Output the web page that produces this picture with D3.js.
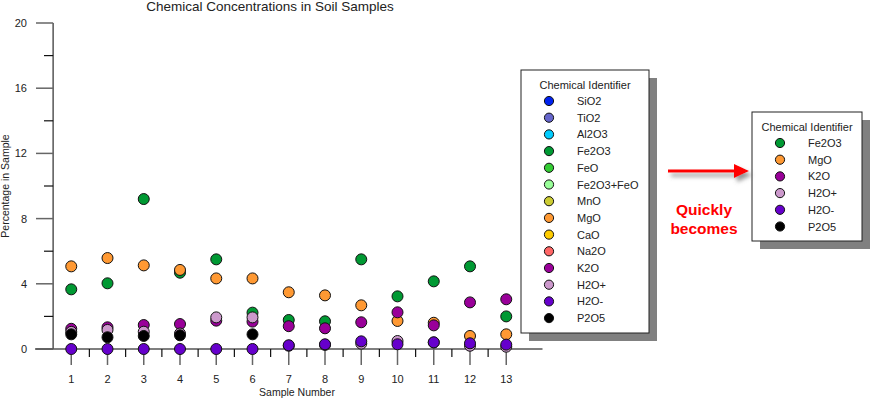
<!DOCTYPE html>
<html>
<head>
<meta charset="utf-8">
<script src="https://cdn.jsdelivr.net/npm/d3@7/dist/d3.min.js"></script>
<style>
  body { margin: 0; background: #fff; }
  svg { display: block; font-family: "Liberation Sans", Arial, sans-serif; }
</style>
</head>
<body>
<div id="chart"></div>
<script>
'use strict';

// sample numbers on the x axis
const samples = [1, 2, 3, 4, 5, 6, 7, 8, 9, 10, 11, 12, 13];

// percentages (null = not plotted)
const fe2o3   = [3.66, 4.03, 9.2, 4.68, 5.5, 2.23, 1.78, 1.7, 5.5, 3.23, 4.15, 5.07, 2.0];
const mgo     = [5.07, 5.58, 5.13, 4.85, 4.33, 4.33, 3.48, 3.29, 2.68, 1.72, 1.61, 0.8, 0.9];
const k2o     = [1.24, 1.33, 1.47, 1.53, 1.74, 1.68, 1.4, 1.27, 1.64, 2.25, 1.45, 2.86, 3.05];
const h2oPlus = [1.05, 1.17, 1.06, 0.95, 1.94, 1.94, 0.2, 0.25, 0.33, 0.49, 0.4, 0.2, 0.14];
const h2oMinus= [0, 0, 0, 0, 0, 0, 0.23, 0.29, 0.47, 0.29, 0.41, 0.35, 0.27];
const p2o5    = [0.9, 0.72, 0.8, 0.84, null, 0.9, null, null, null, null, null, null, null];

// full legend
const chemicals = ["SiO2", "TiO2", "Al2O3", "Fe2O3", "FeO", "Fe2O3+FeO", "MnO", "MgO", "CaO", "Na2O", "K2O", "H2O+", "H2O-", "P2O5"];
const chemColors = ["#0022ee", "#6666cc", "#00ccff", "#009933", "#33cc33", "#99ff99", "#cccc33", "#ff9933", "#ffcc00", "#ff6666", "#990099", "#cc99cc", "#6600cc", "#000000"];

// plotted series, in draw order
const plotted = ["Fe2O3", "MgO", "K2O", "H2O+", "H2O-", "P2O5"];
const plottedValues = [fe2o3, mgo, k2o, h2oPlus, h2oMinus, p2o5];

const yMajorTicks = [0, 4, 8, 12, 16, 20];
const yMinorTicks = [2, 6, 10, 14, 18];
const xMinorTicks = [1.5, 2.5, 3.5, 4.5, 5.5, 6.5, 7.5, 8.5, 9.5, 10.5, 11.5, 12.5];

const color = d3.scaleOrdinal().domain(chemicals).range(chemColors);

const svg = d3.select("#chart").append("svg")
    .attr("width", 870)
    .attr("height", 399);

const defs = svg.append("defs");
const shadow = defs.append("filter").attr("id", "arrowShadow")
    .attr("x", "-20%").attr("y", "-50%").attr("width", "150%").attr("height", "250%");
shadow.append("feDropShadow")
    .attr("dx", 3).attr("dy", 4).attr("stdDeviation", 2)
    .attr("flood-color", "#666").attr("flood-opacity", 0.7);

const x = d3.scaleLinear().domain([0, 14]).range([35, 542.5]);
const y = d3.scaleLinear().domain([0, 20]).range([349, 23]);

// title
svg.append("text")
    .attr("x", 270).attr("y", 11)
    .attr("text-anchor", "middle")
    .style("font-size", "13.5px")
    .attr("fill", "#222")
    .text("Chemical Concentrations in Soil Samples");

// y axis
const yAxisX = x(0.5);
svg.append("line")
    .attr("x1", yAxisX).attr("x2", yAxisX)
    .attr("y1", y(20)).attr("y2", y(0))
    .attr("stroke", "#555").attr("stroke-width", 1.5);

svg.selectAll(".ymajor").data(yMajorTicks).enter().append("line")
    .attr("class", "ymajor")
    .attr("x1", 36).attr("x2", yAxisX)
    .attr("y1", d => y(d)).attr("y2", d => y(d))
    .attr("stroke", "#666").attr("stroke-width", 1.5);

svg.selectAll(".yminor").data(yMinorTicks).enter().append("line")
    .attr("class", "yminor")
    .attr("x1", 44).attr("x2", yAxisX)
    .attr("y1", d => y(d)).attr("y2", d => y(d))
    .attr("stroke", "#111").attr("stroke-width", 1.2);

svg.selectAll(".ylabel").data(yMajorTicks).enter().append("text")
    .attr("class", "ylabel")
    .attr("x", 27).attr("y", d => y(d) + 4)
    .attr("text-anchor", "end")
    .style("font-size", "11px")
    .attr("fill", "#222")
    .text(d => d);

svg.append("text")
    .attr("transform", "translate(9," + y(10) + ") rotate(-90)")
    .attr("text-anchor", "middle")
    .style("font-size", "10.5px")
    .attr("fill", "#222")
    .text("Percentage in Sample");

// x axis
svg.append("line")
    .attr("x1", x(0)).attr("x2", x(14))
    .attr("y1", y(0)).attr("y2", y(0))
    .attr("stroke", "#555").attr("stroke-width", 1.5);

svg.selectAll(".xmajor").data(samples).enter().append("line")
    .attr("class", "xmajor")
    .attr("x1", d => x(d)).attr("x2", d => x(d))
    .attr("y1", y(0)).attr("y2", y(0) + 16)
    .attr("stroke", "#666").attr("stroke-width", 1.5);

svg.selectAll(".xminor").data(xMinorTicks).enter().append("line")
    .attr("class", "xminor")
    .attr("x1", d => x(d)).attr("x2", d => x(d))
    .attr("y1", y(0)).attr("y2", y(0) + 8)
    .attr("stroke", "#111").attr("stroke-width", 1.2);

svg.selectAll(".xlabel").data(samples).enter().append("text")
    .attr("class", "xlabel")
    .attr("x", d => x(d)).attr("y", 383)
    .attr("text-anchor", "middle")
    .style("font-size", "11px")
    .attr("fill", "#222")
    .text(d => d);

svg.append("text")
    .attr("x", 297).attr("y", 396)
    .attr("text-anchor", "middle")
    .style("font-size", "10.5px")
    .attr("fill", "#222")
    .text("Sample Number");

// points
plotted.forEach(function(name, i) {
    const pts = samples.map((s, j) => ({s: s, v: plottedValues[i][j]}))
        .filter(d => d.v !== null);
    svg.append("g").selectAll("circle").data(pts).enter().append("circle")
        .attr("cx", d => x(d.s))
        .attr("cy", d => y(d.v))
        .attr("r", 5.5)
        .attr("fill", color(name))
        .attr("stroke", "#111")
        .attr("stroke-width", 1);
});

// legend box helper
function drawLegend(left, top, width, height, names, dotX, textX) {
    svg.append("rect")
        .attr("x", left + 8).attr("y", top + 8)
        .attr("width", width).attr("height", height)
        .attr("fill", "#808080");
    svg.append("rect")
        .attr("x", left).attr("y", top)
        .attr("width", width).attr("height", height)
        .attr("fill", "#fff").attr("stroke", "#222").attr("stroke-width", 1);
    svg.append("text")
        .attr("x", left + width / 2).attr("y", top + 19)
        .attr("text-anchor", "middle")
        .style("font-size", "11px")
        .attr("fill", "#222")
        .text("Chemical Identifier");
    const rows = svg.append("g").selectAll("g").data(names).enter().append("g")
        .attr("transform", (d, i) => "translate(0," + (top + 31 + i * 16.7) + ")");
    rows.append("circle")
        .attr("cx", left + dotX).attr("cy", 0)
        .attr("r", 4.6)
        .attr("fill", d => color(d))
        .attr("stroke", "#111").attr("stroke-width", 1);
    rows.append("text")
        .attr("x", left + textX).attr("y", 4)
        .style("font-size", "11px")
        .attr("fill", "#222")
        .text(d => d);
}

drawLegend(521, 70, 128, 263, chemicals, 28, 56);
drawLegend(752, 112, 110, 129, plotted, 28, 56);

// arrow
const arrow = svg.append("g").attr("filter", "url(#arrowShadow)");
arrow.append("line")
    .attr("x1", 668).attr("x2", 737)
    .attr("y1", 171).attr("y2", 171)
    .attr("stroke", "#ff0000").attr("stroke-width", 3);
arrow.append("path")
    .attr("d", "M734,164 L749,171 L734,178 Z")
    .attr("fill", "#ff0000");

svg.append("text")
    .attr("x", 704).attr("y", 215)
    .attr("text-anchor", "middle")
    .style("font-size", "15.5px").style("font-weight", "bold")
    .attr("fill", "#ff0000")
    .text("Quickly");
svg.append("text")
    .attr("x", 704).attr("y", 234)
    .attr("text-anchor", "middle")
    .style("font-size", "15.5px").style("font-weight", "bold")
    .attr("fill", "#ff0000")
    .text("becomes");
</script>
</body>
</html>
